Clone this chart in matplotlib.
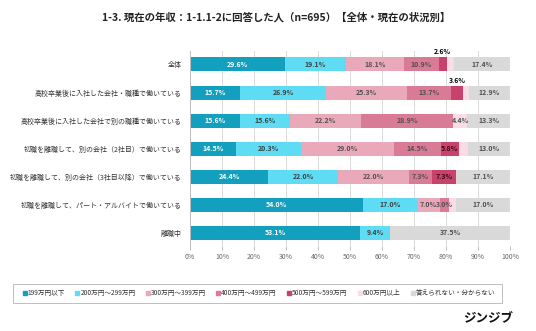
import matplotlib
matplotlib.use("Agg")
import matplotlib.pyplot as plt
from matplotlib.patches import Rectangle
import numpy as np

plt.rcParams['font.family'] = ['Noto Sans CJK JP', 'DejaVu Sans']

categories = [
    "全体",
    "高校卒業後に入社した会社・職種で働いている",
    "高校卒業後に入社した会社で別の職種で働いている",
    "初職を離職して、別の会社（2社目）で働いている",
    "初職を離職して、別の会社（3社目以降）で働いている",
    "初職を離職して、パート・アルバイトで働いている",
    "離職中",
]
series_names = [
    "199万円以下", "200万円～299万円", "300万円～399万円", "400万円～499万円",
    "500万円～599万円", "600万円以上", "答えられない・分からない",
]
v_199 = [29.6, 15.7, 15.6, 14.5, 24.4, 54.0, 53.1]
v_200 = [19.1, 26.9, 15.6, 20.3, 22.0, 17.0, 9.4]
v_300 = [18.1, 25.3, 22.2, 29.0, 22.0, 7.0, 0.0]
v_400 = [10.9, 13.7, 28.9, 14.5, 7.3, 3.0, 0.0]
v_500 = [2.6, 3.6, 0.0, 5.8, 7.3, 0.0, 0.0]
v_600 = [2.3, 1.9, 4.4, 2.9, 0.0, 2.0, 0.0]
v_na = [17.4, 12.9, 13.3, 13.0, 17.1, 17.0, 37.5]
series = [v_199, v_200, v_300, v_400, v_500, v_600, v_na]

colors = ["#13a0be", "#5edcf4", "#eaa8bb", "#d97a97", "#c8426b", "#f8dde6", "#d9d9d9"]
text_colors = ["white", "#404040", "#505050", "#505050", "#3a0818", "#505050", "#505050"]

fig = plt.figure(figsize=(5.36, 3.31), dpi=100)
ax = fig.add_axes([190 / 536, 1 - 246 / 331, 320 / 536, 195 / 331])

y = np.arange(len(categories))
left = np.zeros(len(categories))
for i, (vals, c) in enumerate(zip(series, colors)):
    vals = np.array(vals)
    ax.barh(y, vals, left=left, height=0.5, color=c, zorder=2)
    for j, v in enumerate(vals):
        cx = left[j] + v / 2
        if i == 4 and j in (0, 1):
            # narrow segments get their label above the bar
            ax.text(cx, j - 0.32, f"{v:.1f}%", ha="center", va="bottom",
                    fontsize=5, fontweight="bold", color="black", zorder=3)
        elif v >= 3.0:
            ax.text(cx, j, f"{v:.1f}%", ha="center", va="center", fontsize=5,
                    fontweight="bold", color=text_colors[i], zorder=3)
    left += vals

ax.set_xlim(0, 100)
ax.set_ylim(6.47, -0.48)
ax.set_xticks(np.arange(0, 101, 10))
ax.set_xticklabels([f"{t}%" for t in range(0, 101, 10)])
ax.set_yticks(y)
ax.set_yticklabels(categories)
ax.tick_params(axis="y", length=0, labelsize=5, pad=6, labelcolor="#333333")
ax.tick_params(axis="x", length=3, width=0.7, color="#bfbfbf", labelsize=5,
               labelcolor="#666666", pad=2)
ax.grid(axis="x", color="#dadada", linewidth=0.7, zorder=0)
for s in ["top", "right", "bottom"]:
    ax.spines[s].set_visible(False)
ax.spines["left"].set_color("#bfbfbf")
ax.spines["left"].set_linewidth(0.7)

fig.text(276 / 536, 1 - 17 / 331, "1-3. 現在の年収：1-1.1-2に回答した人（n=695）【全体・現在の状況別】",
         ha="center", va="center", fontsize=7.5, fontweight="bold", color="#222222")

# legend box
fig.patches.append(Rectangle((13 / 536, 1 - 303 / 331), 489 / 536, 19 / 331,
                             transform=fig.transFigure, facecolor="white",
                             edgecolor="#bfbfbf", linewidth=0.7))
handles = [plt.Line2D([], [], marker="s", linestyle="", markersize=2.5,
                      markerfacecolor=c, markeredgecolor=c) for c in colors]
fig.legend(handles, series_names, loc="center", bbox_to_anchor=(259 / 536, 1 - 293.5 / 331),
           ncol=7, frameon=False, fontsize=4.8, handlelength=0.5, handletextpad=0.2,
           columnspacing=1.6, labelcolor="#333333")

fig.text(513 / 536, 1 - 319 / 331, "ジンジブ", ha="right", va="center",
         fontsize=9, fontweight="bold", color="#111111")

fig.savefig("out.png", dpi=100, facecolor="white")
